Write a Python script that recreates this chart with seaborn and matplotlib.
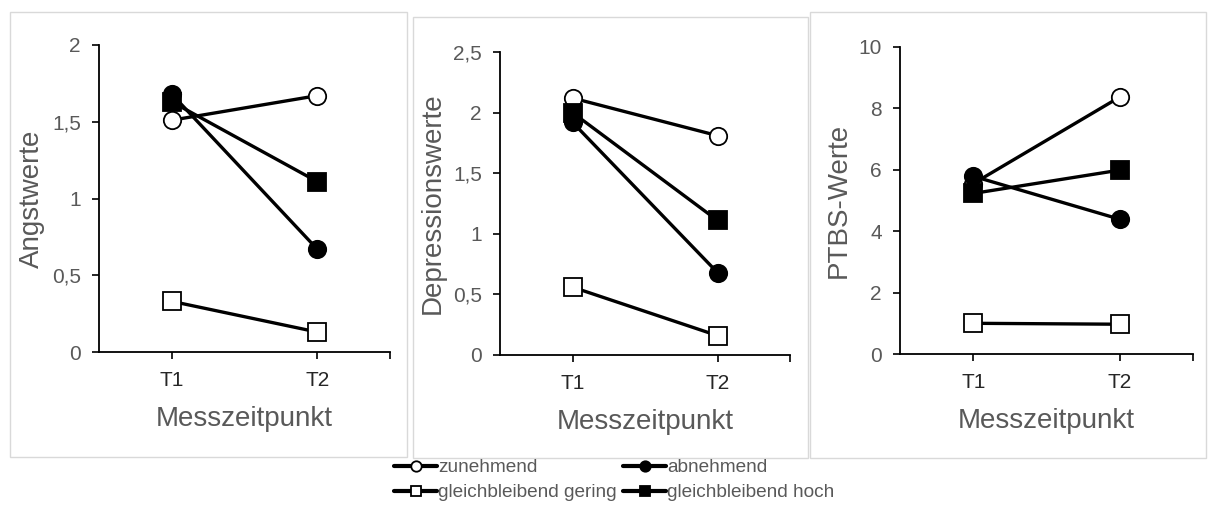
import matplotlib.pyplot as plt
import matplotlib.ticker as mticker
from matplotlib.patches import Rectangle
import pandas as pd
import seaborn as sns

sns.set_theme(style="white")
plt.rcParams['font.family'] = ['Liberation Sans', 'DejaVu Sans']

zeitpunkte = ["T1", "T2"]
gruppen = ["zunehmend", "gleichbleibend gering", "abnehmend", "gleichbleibend hoch"]

angst = {
    "zunehmend": [1.51, 1.67],
    "gleichbleibend gering": [0.33, 0.13],
    "abnehmend": [1.68, 0.67],
    "gleichbleibend hoch": [1.63, 1.11],
}
depression = {
    "zunehmend": [2.12, 1.81],
    "gleichbleibend gering": [0.56, 0.16],
    "abnehmend": [1.92, 0.68],
    "gleichbleibend hoch": [2.00, 1.11],
}
ptbs = {
    "zunehmend": [5.55, 8.37],
    "gleichbleibend gering": [1.00, 0.97],
    "abnehmend": [5.79, 4.39],
    "gleichbleibend hoch": [5.23, 5.99],
}

stil = {
    "zunehmend": ("o", "white"),
    "gleichbleibend gering": ("s", "white"),
    "abnehmend": ("o", "black"),
    "gleichbleibend hoch": ("s", "black"),
}

grau = "#595959"
W, H = 1209, 513
fig = plt.figure(figsize=(W / 100, H / 100), dpi=100)

# panel frames (pixel boxes)
for x0, y0, x1, y1 in [(10, 12, 407, 457), (413, 17, 808, 458), (810, 12, 1206, 458)]:
    fig.patches.append(Rectangle((x0 / W, 1 - y1 / H), (x1 - x0) / W, (y1 - y0) / H,
                                 transform=fig.transFigure, fill=False,
                                 edgecolor="#d9d9d9", linewidth=1))

panels = [
    (angst, "Angstwerte", [0, 0.5, 1, 1.5, 2], (99, 45, 390, 352)),
    (depression, "Depressionswerte", [0, 0.5, 1, 1.5, 2, 2.5], (500, 52, 790, 355)),
    (ptbs, "PTBS-Werte", [0, 2, 4, 6, 8, 10], (900, 47, 1193, 354)),
]

def fmt(v, pos):
    return ("%g" % v).replace(".", ",")

for daten, ylabel, yticks, (l, t, r, b) in panels:
    ax = fig.add_axes([l / W, 1 - b / H, (r - l) / W, (b - t) / H])
    ax.set_facecolor("none")
    rows = []
    for g in gruppen:
        for z, v in zip(zeitpunkte, daten[g]):
            rows.append({"Messzeitpunkt": z, "Wert": v, "Gruppe": g})
    df = pd.DataFrame(rows)
    for g in gruppen:
        m, fc = stil[g]
        sns.lineplot(data=df[df["Gruppe"] == g], x="Messzeitpunkt", y="Wert",
                     ax=ax, color="black", linewidth=2.4, marker=m,
                     markersize=12.5, markerfacecolor=fc, markeredgecolor="black",
                     markeredgewidth=1.3, label=g, legend=False)
    ax.set_xlim(-0.5, 1.5)
    ax.set_ylim(yticks[0], yticks[-1])
    ax.set_yticks(yticks)
    ax.yaxis.set_major_formatter(mticker.FuncFormatter(fmt))
    ax.set_xticks([0, 1])
    ax.set_xticklabels(zeitpunkte)
    ax.xaxis.set_minor_locator(mticker.FixedLocator([1.5]))
    for s in ["top", "right"]:
        ax.spines[s].set_visible(False)
    for s in ["left", "bottom"]:
        ax.spines[s].set_color("black")
        ax.spines[s].set_linewidth(1.3)
    ax.tick_params(axis="y", direction="out", length=5, width=1.2, color="black",
                   labelsize=15, labelcolor=grau, pad=8, left=True)
    ax.tick_params(axis="x", which="both", direction="out", length=5, width=1.2,
                   color="black", labelsize=15, labelcolor="#262626", pad=9, bottom=True)
    ax.set_xlabel("Messzeitpunkt", fontsize=20, color=grau, labelpad=11)
    ax.set_ylabel(ylabel, fontsize=20, color=grau, labelpad=5)
    ax.grid(False)

handles, labels = ax.get_legend_handles_labels()
leg = fig.legend(handles, labels, ncol=2, loc="center", bbox_to_anchor=(0.508, 0.064),
                 frameon=False, fontsize=13.7, markerscale=0.6, handlelength=2.3,
                 handletextpad=0.05, columnspacing=0.3, labelspacing=0.42,
                 borderpad=0.1)
for h in leg.legend_handles:
    h.set_linewidth(3)
for txt in leg.get_texts():
    txt.set_color(grau)

fig.savefig("out.png", dpi=100)
